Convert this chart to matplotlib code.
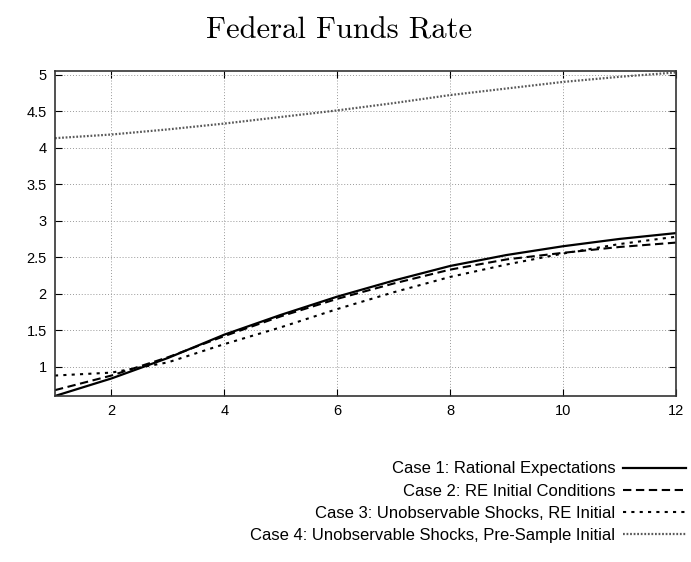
import matplotlib
matplotlib.use("Agg")
import matplotlib.pyplot as plt

# horizon (quarters)
horizon = [1, 2, 3, 4, 5, 6, 7, 8, 9, 10, 11, 12]

case1 = [0.60, 0.84, 1.12, 1.44, 1.71, 1.96, 2.18, 2.38, 2.53, 2.65, 2.75, 2.83]
case2 = [0.68, 0.88, 1.13, 1.42, 1.69, 1.93, 2.14, 2.33, 2.47, 2.56, 2.64, 2.70]
case3 = [0.88, 0.92, 1.06, 1.31, 1.54, 1.79, 2.02, 2.23, 2.40, 2.55, 2.68, 2.78]
case4 = [4.13, 4.18, 4.25, 4.33, 4.42, 4.51, 4.61, 4.72, 4.81, 4.90, 4.97, 5.03]

labels = ["Case 1: Rational Expectations",
          "Case 2: RE Initial Conditions",
          "Case 3: Unobservable Shocks, RE Initial",
          "Case 4: Unobservable Shocks, Pre-Sample Initial"]

plt.rcParams['font.family'] = ['Liberation Sans', 'DejaVu Sans']

fig = plt.figure(figsize=(6.91, 5.62), dpi=100)
ax = fig.add_axes([0.0796, 0.2954, 0.8984, 0.5783])

ax.plot(horizon, case1, color="black", lw=1.6, ls="-", label=labels[0])
ax.plot(horizon, case2, color="black", lw=1.5, ls=(0, (4, 2.2)), label=labels[1])
ax.plot(horizon, case3, color="black", lw=1.5, ls=(0, (1.5, 2.5)), label=labels[2])
ax.plot(horizon, case4, color="0.35", lw=1.6, ls=(0, (0.8, 0.8)), label=labels[3])

ax.set_xlim(1, 12)
ax.set_ylim(0.6, 5.05)
ax.set_xticks([2, 4, 6, 8, 10, 12])
ax.set_yticks([1, 1.5, 2, 2.5, 3, 3.5, 4, 4.5, 5])
ax.set_yticklabels(["1", "1.5", "2", "2.5", "3", "3.5", "4", "4.5", "5"])
ax.tick_params(direction="in", top=True, right=True, length=5, labelsize=10.5, pad=6)
ax.grid(True, color="0.6", ls=(0, (1, 2)), lw=0.7)
for s in ax.spines.values():
    s.set_linewidth(1.2)
    s.set_color("0.2")

fig.text(0.49, 0.946, "Federal Funds Rate", ha="center", va="center",
         family="cmr10", fontsize=22)

ax.legend(loc="upper right", bbox_to_anchor=(0.993, 0.179), bbox_transform=fig.transFigure,
          markerfirst=False, frameon=False, fontsize=12, handlelength=3.8,
          handletextpad=0.45, labelspacing=0.43, borderaxespad=0, borderpad=0)

fig.savefig("out.png", dpi=100)
